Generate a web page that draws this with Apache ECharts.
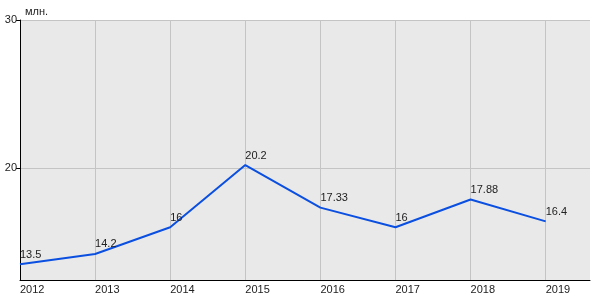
<!DOCTYPE html>
<html><head><meta charset="utf-8">
<script src="https://cdn.jsdelivr.net/npm/echarts@6/dist/echarts.min.js"></script>
<style>html,body{margin:0;padding:0;background:#fff}#c{width:600px;height:300px}</style>
</head><body><div id="c"></div>
<script>
const years = [2012, 2013, 2014, 2015, 2016, 2017, 2018, 2019];
const values = [13.5, 14.2, 16, 20.2, 17.33, 16, 17.88, 16.4];
const yTicks = [20, 30];
const unitName = 'млн.';

const chart = echarts.init(document.getElementById('c'), null, {renderer: 'canvas'});
const font = 'Liberation Sans, Arial, sans-serif';
chart.setOption({
  animation: false,
  grid: {left: 20, right: 10, top: 20, bottom: 20, show: true, backgroundColor: '#e9e9e9', borderWidth: 0},
  xAxis: {
    type: 'value', min: 2012, max: 2019.59,
    axisLine: {show: true, lineStyle: {color: '#000', width: 1}},
    axisTick: {show: false, customValues: years},
    axisLabel: {customValues: years, align: 'left', color: '#222', fontSize: 11, fontFamily: font, margin: 4, formatter: v => String(v)},
    splitLine: {show: true, lineStyle: {color: '#c4c4c4', width: 1}}
  },
  yAxis: {
    type: 'value', min: 12.44, max: 30,
    name: unitName, nameLocation: 'end', nameGap: 3,
    nameTextStyle: {align: 'left', color: '#222', fontSize: 11, fontFamily: font, padding: [0, 0, 0, 5]},
    axisLine: {show: true, lineStyle: {color: '#000', width: 1}},
    axisTick: {show: true, length: 4, customValues: yTicks, lineStyle: {color: '#000'}},
    axisLabel: {customValues: yTicks, color: '#222', fontSize: 11, fontFamily: font, margin: 3, padding: [0, 0, 4, 0]},
    splitLine: {show: true, lineStyle: {color: '#c4c4c4', width: 1}}
  },
  series: [{
    type: 'line',
    data: years.map((y, i) => [y, values[i]]),
    symbol: 'circle', symbolSize: 2, showSymbol: true, showAllSymbol: true,
    itemStyle: {color: 'rgba(0,0,0,0)', borderWidth: 0},
    lineStyle: {color: '#0a4fe0', width: 2},
    labelLayout: {hideOverlap: false},
    label: {show: true, position: 'top', align: 'left', distance: 3, color: '#222', fontSize: 11, fontFamily: font,
      formatter: p => String(p.value[1])}
  }]
});
</script></body></html>
